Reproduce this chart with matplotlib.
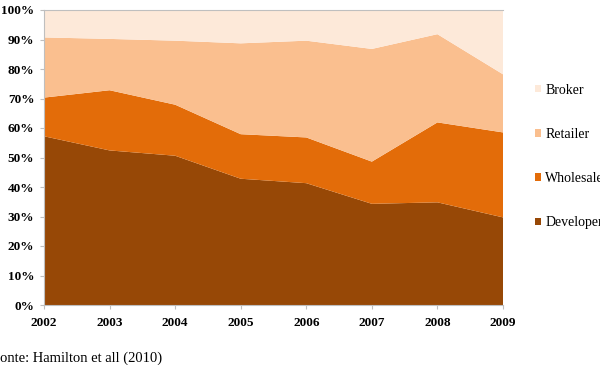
import matplotlib
matplotlib.use("Agg")
import matplotlib.pyplot as plt
from matplotlib.patches import Patch
from matplotlib.ticker import PercentFormatter

# share of market by actor type (%)
years = [2002, 2003, 2004, 2005, 2006, 2007, 2008, 2009]
developer = [57.2, 52.4, 50.6, 42.8, 41.3, 34.3, 34.8, 29.7]
wholesaler = [13.1, 20.4, 17.3, 15.1, 15.5, 14.3, 27.1, 28.8]
retailer = [20.4, 17.4, 21.7, 30.8, 32.8, 38.2, 29.9, 19.7]
broker = [9.3, 9.8, 10.4, 11.3, 10.4, 13.2, 8.2, 21.8]

series_names = ["Developer", "Wholesaler", "Retailer", "Broker"]
colors = ["#974806", "#E36C09", "#FABF8F", "#FDE9D9"]

plt.rcParams["font.family"] = ["Liberation Serif", "DejaVu Serif"]

fig = plt.figure(figsize=(6, 3.65), dpi=100)
ax = fig.add_axes([44 / 600, 1 - 305 / 365, 459 / 600, 295 / 365])

ax.stackplot(years, developer, wholesaler, retailer, broker,
             colors=colors, linewidth=0)

ax.set_xlim(years[0], years[-1])
ax.set_ylim(0, 100)
ax.set_xticks(years)
ax.set_yticks(range(0, 101, 10))
ax.yaxis.set_major_formatter(PercentFormatter(decimals=0))

for lbl in ax.get_xticklabels() + ax.get_yticklabels():
    lbl.set_fontweight("bold")
    lbl.set_fontsize(9.5)

for side in ["left", "bottom", "top"]:
    ax.spines[side].set_color("#BFBFBF")
    ax.spines[side].set_linewidth(0.8)
ax.spines["right"].set_visible(False)
ax.tick_params(axis="both", direction="out", length=3, width=0.8,
               color="#BFBFBF", pad=4)
ax.tick_params(axis="x", pad=6)

handles = [Patch(facecolor=c, edgecolor="none") for c in colors]
fig.legend(handles[::-1], series_names[::-1],
           loc="center left", bbox_to_anchor=(535 / 600, 1 - 156.5 / 365),
           frameon=False, fontsize=10, handlelength=0.45, handleheight=0.45,
           handletextpad=0.3, labelspacing=2.25, borderpad=0, borderaxespad=0)

fig.text(-0.0135, 1 - 358 / 365, "Fonte: Hamilton et all (2010)",
         fontsize=10.5, va="center", ha="left")

fig.savefig("out.png", dpi=100)
